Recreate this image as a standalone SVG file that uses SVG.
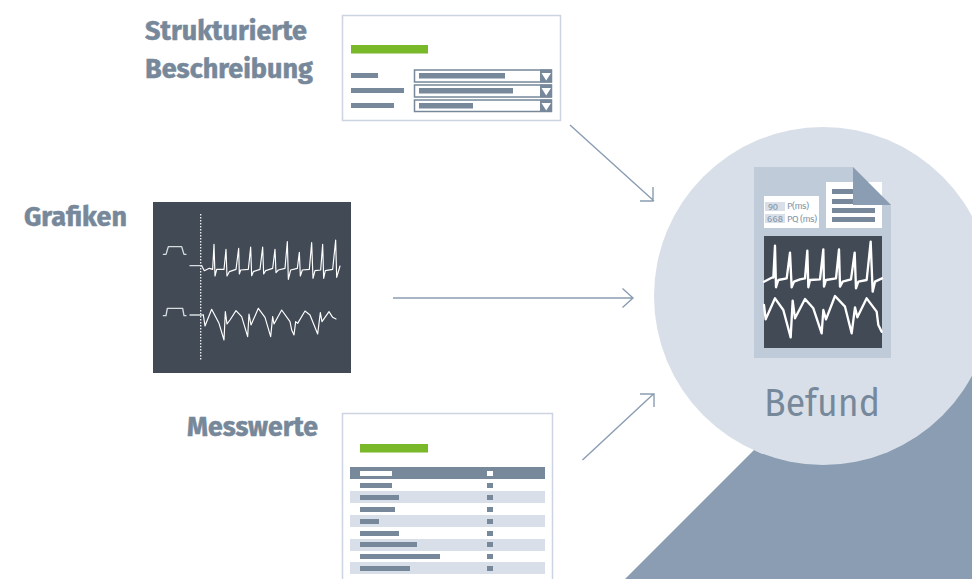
<svg xmlns="http://www.w3.org/2000/svg" width="972" height="579" viewBox="0 0 972 579">
<defs>
<style>
.lbl{font-family:"Fira Sans","Noto Sans","Liberation Sans",sans-serif;font-weight:700;font-size:27px;fill:#76889a;stroke:#76889a;stroke-width:.5}
.bar{fill:#76889a}
.stripe{fill:#d8dfe9}
.green{fill:#78b829}
.frame{fill:#fff;stroke:#cbd4e0;stroke-width:1.5}
.sel{fill:#fff;stroke:#76889a;stroke-width:1.5}
.tri{fill:#fff}
.dark{fill:#414a55}
.wave{fill:none;stroke:#fff;stroke-linejoin:round;stroke-linecap:round}
.small{font-family:"Fira Sans","Noto Sans","Liberation Sans",sans-serif;font-size:9.500px;fill:#8295a8}
.conn{fill:none;stroke:#8a9db2;stroke-width:1.4}
</style>
</defs>
<rect width="972" height="579" fill="#fff"/>
<polygon points="625,579 972,232 972,579" fill="#8a9db2"/>
<g id="befund">
<circle cx="823" cy="296" r="169" fill="#d8dfe9"/>
<polygon points="754,167 853,167 891,205 891,358 754,358" fill="#bfcbd8"/>
<rect x="826" y="182" width="56" height="46" fill="#fff"/>
<rect class="bar" x="832" y="189" width="43" height="5"/>
<rect class="bar" x="832" y="199" width="43" height="5"/>
<rect class="bar" x="832" y="208" width="43" height="5"/>
<rect class="bar" x="832" y="217" width="43" height="5"/>
<polygon points="853,167 891,205 853,205" fill="#8a9db2"/>
<rect x="764" y="196" width="55" height="32" fill="#fff"/>
<rect class="stripe" x="765" y="202" width="20" height="9"/>
<rect class="stripe" x="765" y="214" width="20" height="9"/>
<text class="small" x="768" y="209.500" textLength="10">90</text>
<text class="small" x="767" y="222" textLength="16">668</text>
<text class="small" x="787" y="209" textLength="22">P(ms)</text>
<text class="small" x="787" y="222" textLength="30">PQ (ms)</text>
<rect class="dark" x="764" y="236" width="118" height="112"/>
<g transform="translate(750 230) scale(.33333)">
<path class="wave" stroke-width="7" d="M42,155 L65,143 L70,143 L75,47 L78,172 L85,150 L110,145 L120,68 L125,172 L132,155 L150,148 L165,145 L172,62 L175,172 L180,150 L210,148 L220,58 L222,170 L228,150 L258,145 L267,58 L270,170 L278,155 L303,148 L314,68 L318,175 L325,155 L350,150 L362,35 L368,185 L375,155 L396,145"/>
<path class="wave" stroke-width="7" d="M42,225 L47,268 L75,205 L100,240 L122,322 L128,212 L135,265 L165,207 L190,235 L215,310 L220,240 L228,268 L255,198 L285,230 L305,310 L315,232 L322,262 L350,205 L380,245 L385,285 L395,305"/>
</g>
<text x="822" y="416" font-family="'Fira Sans','Noto Sans','Liberation Sans',sans-serif" font-size="38" fill="#76889a" text-anchor="middle" textLength="116" lengthAdjust="spacingAndGlyphs">Befund</text>
</g>
<g id="strukturierte">
<text class="lbl" x="145" y="40" textLength="162" lengthAdjust="spacingAndGlyphs">Strukturierte</text>
<text class="lbl" x="145" y="78" textLength="168" lengthAdjust="spacingAndGlyphs">Beschreibung</text>
<rect class="frame" x="342.500" y="15.500" width="218" height="105"/>
<rect class="green" x="351" y="45" width="77" height="8.500"/>
<rect class="bar" x="351" y="73" width="27" height="5"/>
<rect class="bar" x="351" y="88" width="53" height="5"/>
<rect class="bar" x="351" y="103" width="43" height="5"/>
<rect class="sel" x="414.500" y="70" width="137" height="12"/>
<rect class="sel" x="414.500" y="85" width="137" height="12"/>
<rect class="sel" x="414.500" y="100" width="137" height="11.500"/>
<rect class="bar" x="419" y="73" width="86" height="5.500"/>
<rect class="bar" x="419" y="88" width="94" height="5.500"/>
<rect class="bar" x="419" y="103" width="54" height="5.500"/>
<rect class="bar" x="540" y="69.500" width="12" height="13"/>
<rect class="bar" x="540" y="84.500" width="12" height="13"/>
<rect class="bar" x="540" y="99.500" width="12" height="12.500"/>
<polygon class="tri" points="541.500,73 551,73 546.200,80.500"/>
<polygon class="tri" points="541.500,88 551,88 546.200,95.500"/>
<polygon class="tri" points="541.500,103 551,103 546.200,110.500"/>
</g>
<g id="grafiken">
<text class="lbl" x="24" y="226" textLength="103" lengthAdjust="spacingAndGlyphs">Grafiken</text>
<rect class="dark" x="153" y="202" width="198" height="171"/>
<line x1="200.700" y1="214" x2="200.700" y2="360" stroke="#fff" stroke-width="1.200" stroke-dasharray="1.500 1.500"/>
<g transform="translate(150 200) scale(.33333)">
<path class="wave" stroke-width="4" style="stroke:#d9dde2" d="M40,163 L48,163 L55,140 L95,140 L102,163 L108,163 M40,347 L48,347 L52,325 L98,325 L102,347 L108,347 M120,197 L155,197 M120,345 L160,345"/>
<path class="wave" stroke-width="3.500" d="M155,197 L163,212 L178,205 L188,208 L192,133 L195,228 L200,208 L222,208 L228,148 L231,228 L238,215 L258,208 L266,145 L268,222 L272,210 L295,208 L302,141 L305,227 L310,215 L330,208 L338,141 L341,222 L347,212 L368,205 L375,148 L378,218 L385,210 L405,205 L412,125 L415,238 L422,210 L442,205 L448,157 L451,228 L457,210 L478,208 L485,128 L489,235 L495,212 L512,210 L518,133 L521,235 L526,212 L548,208 L557,120 L560,232 L570,198"/>
<path class="wave" stroke-width="3.500" d="M160,345 L165,378 L185,328 L207,370 L222,420 L226,335 L231,372 L240,360 L258,332 L275,350 L293,410 L297,342 L303,375 L325,325 L345,352 L362,410 L368,350 L372,372 L395,330 L420,365 L425,390 L432,405 L437,365 L443,370 L465,333 L480,345 L503,402 L511,338 L516,365 L537,335 L548,352 L558,357"/>
</g>
</g>
<g id="messwerte">
<text class="lbl" x="187" y="436" textLength="131" lengthAdjust="spacingAndGlyphs">Messwerte</text>
<path d="M342.500,579 V413.500 H552.500 V579" fill="#fff" stroke="#cbd4e0" stroke-width="1.5"/>
<rect class="green" x="360" y="444" width="68" height="8.500"/>
<rect class="bar" x="350" y="467" width="195" height="12"/>
<rect class="stripe" x="350" y="491" width="195" height="12"/>
<rect class="stripe" x="350" y="515" width="195" height="12"/>
<rect class="stripe" x="350" y="539" width="195" height="12"/>
<rect class="stripe" x="350" y="562" width="195" height="12"/>
<rect x="360" y="471" width="32" height="5" fill="#fff"/>
<rect x="487" y="471" width="6" height="5" fill="#fff"/>
<g class="bar">
<rect x="360" y="483" width="32" height="5"/>
<rect x="360" y="495" width="39" height="5"/>
<rect x="360" y="507" width="35" height="5"/>
<rect x="360" y="519" width="19" height="5"/>
<rect x="360" y="531" width="39" height="5"/>
<rect x="360" y="542" width="57" height="5"/>
<rect x="360" y="554" width="80" height="5"/>
<rect x="360" y="566" width="50" height="5"/>
<rect x="487" y="483" width="6" height="5"/>
<rect x="487" y="495" width="6" height="5"/>
<rect x="487" y="507" width="6" height="5"/>
<rect x="487" y="519" width="6" height="5"/>
<rect x="487" y="531" width="6" height="5"/>
<rect x="487" y="542" width="6" height="5"/>
<rect x="487" y="554" width="6" height="5"/>
<rect x="487" y="566" width="6" height="5"/>
</g>
</g>
<g id="connectors">
<path class="conn" d="M570,125 L654,201 M653,187 V201 H640"/>
<path class="conn" d="M393,298 H633 M622.500,288.500 L633,298 L622.500,307.500"/>
<path class="conn" d="M582.500,460 L654,393.500 M640,394 H654 V407"/>
</g>
</svg>
